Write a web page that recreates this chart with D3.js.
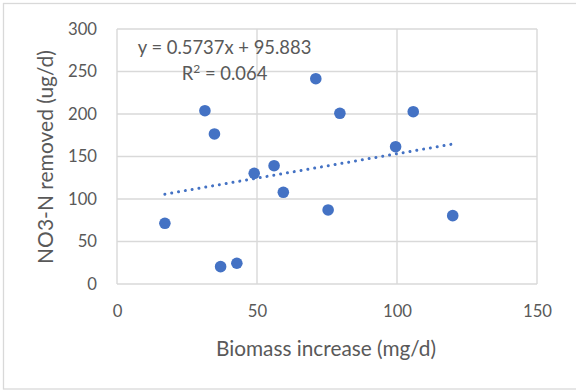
<!DOCTYPE html>
<html>
<head>
<meta charset="utf-8">
<script src="https://cdn.jsdelivr.net/npm/d3@7/dist/d3.min.js"></script>
<style>
  html, body { margin: 0; padding: 0; background: #fff; }
  svg { display: block; }
  text { font-family: Lato, "Open Sans", sans-serif; fill: #595959; }
</style>
</head>
<body>
<svg id="chart" width="576" height="391"></svg>
<script>
// Biomass increase (mg/d) vs NO3-N removed (ug/d)
const biomass = [17.1, 31.4, 34.8, 37.0, 42.8, 49.0, 56.1, 59.4, 71.0, 75.4, 79.6, 99.5, 105.8, 119.9];
const no3Removed = [71.4, 203.9, 176.5, 20.4, 24.4, 130.2, 139.2, 107.9, 241.5, 87.1, 200.8, 161.5, 202.7, 80.4];

// Linear trend line coefficients
const trendSlope = 0.5737;
const trendIntercept = 95.883;
const rSquared = 0.064;

const xTicks = [0, 50, 100, 150];
const yTicks = [0, 50, 100, 150, 200, 250, 300];

const svg = d3.select("#chart");

// Chart frame
svg.append("rect")
  .attr("x", 3.5).attr("y", 3.5)
  .attr("width", 580).attr("height", 385.5)
  .attr("fill", "#fff")
  .attr("stroke", "#d9d9d9").attr("stroke-width", 1.3);

const x = d3.scaleLinear().domain([0, 150]).range([117, 537]);
const y = d3.scaleLinear().domain([0, 300]).range([284, 29]);

// Gridlines
const grid = svg.append("g").attr("stroke", "#d9d9d9").attr("stroke-width", 1.4);
grid.selectAll(".gx").data(xTicks).join("line")
  .attr("x1", d => x(d)).attr("x2", d => x(d))
  .attr("y1", y(0)).attr("y2", y(300));
grid.selectAll(".gy").data(yTicks).join("line")
  .attr("x1", x(0)).attr("x2", x(150))
  .attr("y1", d => y(d)).attr("y2", d => y(d));

// Axes (labels only)
const xAxis = svg.append("g")
  .attr("transform", `translate(0,${y(0)})`)
  .call(d3.axisBottom(x).tickValues(xTicks).tickSize(0).tickPadding(21));
const yAxis = svg.append("g")
  .attr("transform", `translate(${x(0)},0)`)
  .call(d3.axisLeft(y).tickValues(yTicks).tickSize(0).tickPadding(20));
[xAxis, yAxis].forEach(a => {
  a.select(".domain").remove();
  a.selectAll("text").style("font-size", "16.7px").attr("fill", "#595959");
});

// Trend line across the data range
const xMin = d3.min(biomass), xMax = d3.max(biomass);
svg.append("line")
  .attr("x1", x(xMin)).attr("y1", y(trendSlope * xMin + trendIntercept))
  .attr("x2", x(xMax)).attr("y2", y(trendSlope * xMax + trendIntercept))
  .attr("stroke", "#4472c4").attr("stroke-width", 3)
  .attr("stroke-linecap", "round")
  .attr("stroke-dasharray", "0.01 6.9");

// Points
svg.append("g").selectAll("circle")
  .data(biomass.map((b, i) => [b, no3Removed[i]]))
  .join("circle")
  .attr("cx", d => x(d[0])).attr("cy", d => y(d[1]))
  .attr("r", 5.8)
  .attr("fill", "#4472c4");

// Trend equation label
svg.append("text")
  .attr("x", 224.5).attr("y", 53.5)
  .attr("text-anchor", "middle")
  .style("font-size", "18.4px")
  .text(`y = ${trendSlope}x + ${trendIntercept}`);
const r2 = svg.append("text")
  .attr("x", 224.5).attr("y", 79.5)
  .attr("text-anchor", "middle")
  .style("font-size", "18.4px");
r2.append("tspan").text("R");
r2.append("tspan").attr("dy", -7).style("font-size", "12px").text("2");
r2.append("tspan").attr("dy", 7).text(` = ${rSquared.toFixed(3)}`);

// Axis titles
svg.append("text")
  .attr("x", 326).attr("y", 356)
  .attr("text-anchor", "middle")
  .style("font-size", "20.8px")
  .text("Biomass increase (mg/d)");
svg.append("text")
  .attr("transform", "translate(53,157) rotate(-90)")
  .attr("text-anchor", "middle")
  .style("font-size", "21px")
  .text("NO3-N removed (ug/d)");
</script>
</body>
</html>
